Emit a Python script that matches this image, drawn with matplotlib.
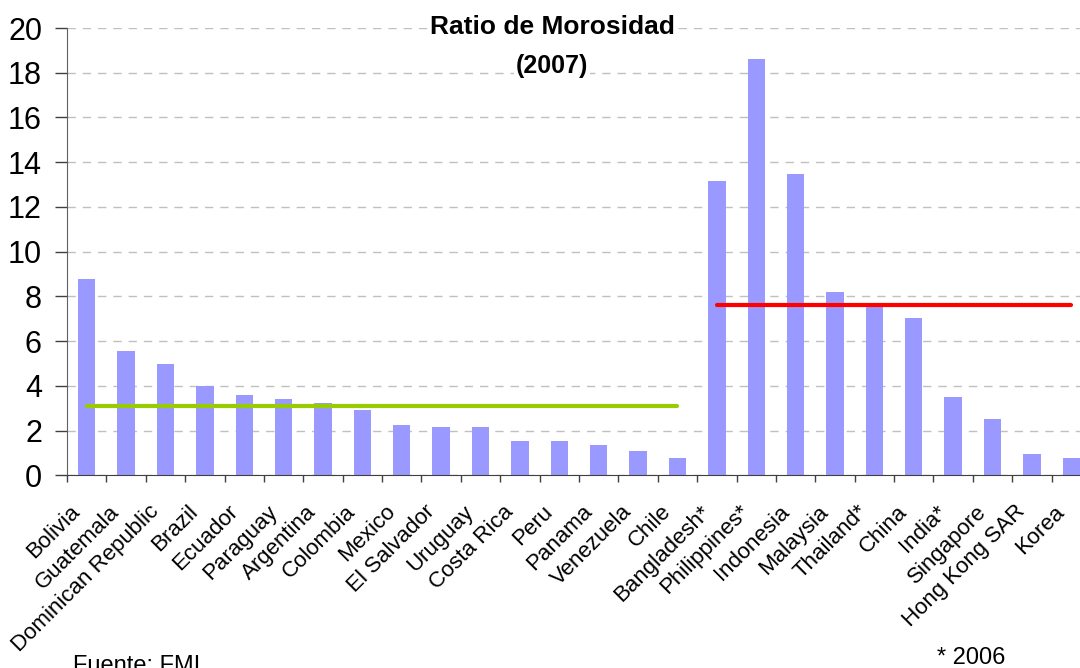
import numpy as np
import matplotlib
matplotlib.use("Agg")
import matplotlib.pyplot as plt
import matplotlib.transforms as mtransforms

plt.rcParams['font.family'] = ['Liberation Sans', 'DejaVu Sans']

countries = ["Bolivia", "Guatemala", "Dominican Republic", "Brazil", "Ecuador",
             "Paraguay", "Argentina", "Colombia", "Mexico", "El Salvador",
             "Uruguay", "Costa Rica", "Peru", "Panama", "Venezuela", "Chile",
             "Bangladesh*", "Philippines*", "Indonesia", "Malaysia", "Thailand*",
             "China", "India*", "Singapore", "Hong Kong SAR", "Korea"]
ratio = [8.78, 5.56, 4.98, 4.0, 3.59, 3.41, 3.24, 2.93, 2.26, 2.16,
         2.16, 1.54, 1.54, 1.36, 1.09, 0.77,
         13.17, 18.63, 13.49, 8.2, 7.55, 7.04, 3.5, 2.52, 0.95, 0.77]
latam_avg = 3.11
asia_avg = 7.6
n_latam = 16

fig = plt.figure(figsize=(10.8, 6.68), dpi=100)
ax = fig.add_axes([67 / 1080, 1 - 475.3 / 668, 1024 / 1080, 447.3 / 668])

x = np.arange(len(countries))
ax.bar(x, ratio, width=0.44, color='#9999FF', zorder=2)

# regional averages
ax.plot([x[0], x[n_latam - 1]], [latam_avg, latam_avg], color='#99CC00', lw=3,
        solid_capstyle='round', zorder=3)
ax.plot([x[n_latam], x[-1]], [asia_avg, asia_avg], color='#FF0000', lw=3,
        solid_capstyle='round', zorder=3)

ax.set_xlim(-0.5, len(countries) - 0.5)
ax.set_ylim(0, 20)
ax.set_yticks(np.arange(0, 21, 2))
ax.yaxis.grid(True, linestyle=(0, (6, 5)), color='#c0c0c0', lw=1, zorder=0)
ax.tick_params(axis='y', labelsize=22, length=9, width=1, color='#404040', pad=9)

ax.set_xticks(x)
ax.set_xticks(np.arange(-0.5, len(countries)), minor=True)
ax.tick_params(axis='x', which='major', length=0, pad=24)
ax.tick_params(axis='x', which='minor', length=5, width=1, color='#404040')
ax.set_xticklabels(countries, rotation=45, ha='right', va='center',
                   rotation_mode='anchor', fontsize=16)
offset = mtransforms.ScaledTranslation(-7 / 72, 0, fig.dpi_scale_trans)
for lbl in ax.get_xticklabels():
    lbl.set_transform(lbl.get_transform() + offset)

for side in ['top', 'right']:
    ax.spines[side].set_visible(False)
ax.spines['left'].set_color('#606060')
ax.spines['bottom'].set_color('#404040')

fig.text(552 / 1080, 1 - 27 / 668, "Ratio de Morosidad", ha='center', va='center',
         fontsize=19, fontweight='bold', zorder=5,
         bbox=dict(facecolor='white', edgecolor='none', pad=1))
fig.text(552 / 1080, 1 - 66 / 668, "(2007)", ha='center', va='center',
         fontsize=18, fontweight='bold', zorder=5,
         bbox=dict(facecolor='white', edgecolor='none', pad=1))

fig.text(73 / 1080, 1 - 666 / 668, "Fuente: FMI", ha='left', va='center', fontsize=17)
fig.text(937 / 1080, 1 - 658 / 668, "* 2006", ha='left', va='center', fontsize=17)

fig.savefig("out.png", dpi=100)
